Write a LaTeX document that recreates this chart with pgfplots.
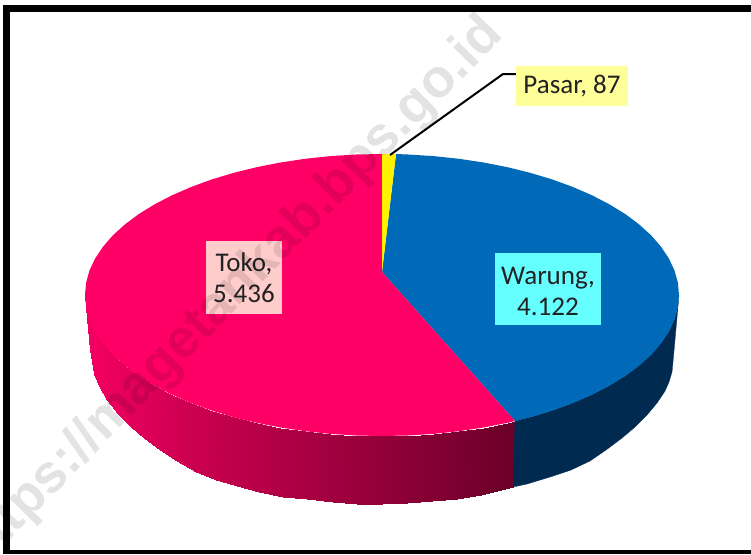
\documentclass[border=0pt]{standalone}
\usepackage{pgfplots}
\pgfplotsset{compat=1.18}
\usepackage{fontspec}
\setmainfont{Carlito}
\newfontfamily\wmfont{Liberation Sans}
\definecolor{pie red}{HTML}{FF0066}
\definecolor{pie blue}{HTML}{0069B8}
\definecolor{pie yellow}{HTML}{FFF200}
\definecolor{side blue}{HTML}{012A50}
\definecolor{box red}{HTML}{FFCCCC}
\definecolor{box blue}{HTML}{66FFFF}
\definecolor{box yellow}{HTML}{FFFF99}
\definecolor{label text}{HTML}{222222}
\begin{document}
\begin{tikzpicture}
\useasboundingbox (0,0) rectangle (751pt,554pt);
\begin{axis}[
  at={(0,0)}, anchor=south west,
  scale only axis, width=751pt, height=554pt,
  xmin=0, xmax=751, ymin=0, ymax=554, y dir=reverse,
  hide axis, clip=true,
  colormap={redside}{rgb255(0cm)=(245,0,98); rgb255(2.7cm)=(200,0,79); rgb255(5.8cm)=(160,0,63); rgb255(10cm)=(106,0,40)},
  point meta min=85, point meta max=515,
]
% red side wall: upper rim, then lower rim
\addplot[surf, shader=interp, mesh/rows=2, mesh/cols=25, point meta=x] table {
x y
515 421
507.5 422.8
483.6 427.5
459 431.2
433.6 433.9
407.9 435.5
382 436
356.1 435.5
330.4 433.9
305.1 431.2
280.4 427.5
256.5 422.8
233.5 417.1
211.6 410.5
191.1 403
172 394.7
154.5 385.6
138.7 375.9
124.8 365.5
112.8 354.6
102.9 343.2
95.1 331.5
89.5 319.5
86.1 307.3
85 295
513 487
505 489
481 495
457 499
432 501
407 503
382 504
357 503.5
333 502
307 499
283 497
259 492
237 486
216 480
196 472
177 461
160 450
144 438
131 427
118 414
107 400
99 386
94 374
90 350
87 310
};
% blue side wall
\addplot[fill=side blue, draw=side blue, line width=0.3pt] coordinates {
(679,295) (677.9,307.3) (674.5,319.5) (668.9,331.5) (661.1,343.2) (651.2,354.6) (639.2,365.5) (625.3,375.9) (609.5,385.6) (592,394.7) (572.9,403) (552.4,410.5) (530.5,417.1) (515,421)
(513,487) (527,484) (550,477) (571,470) (590,461) (606,450) (622,438) (635,427) (647,415) (657,403) (665,391) (669,382) (672,372) (673,362)
} -- cycle;
% top faces
\addplot[fill=pie blue, draw=none] coordinates {
(382,272) (396,154) (407.9,154.5) (433.6,156.1) (459,158.8) (483.6,162.5) (507.5,167.2) (530.5,172.9) (552.4,179.5) (572.9,187) (592,195.3) (609.5,204.4) (625.3,214.1) (639.2,224.5) (651.2,235.4) (661.1,246.8) (668.9,258.5) (674.5,270.5) (677.9,282.7) (679,295) (677.9,307.3) (674.5,319.5) (668.9,331.5) (661.1,343.2) (651.2,354.6) (639.2,365.5) (625.3,375.9) (609.5,385.6) (592,394.7) (572.9,403) (552.4,410.5) (530.5,417.1) (515,421)
} -- cycle;
\addplot[fill=pie red, draw=none] coordinates {
(382,272) (515,421) (507.5,422.8) (483.6,427.5) (459,431.2) (433.6,433.9) (407.9,435.5) (382,436) (356.1,435.5) (330.4,433.9) (305.1,431.2) (280.4,427.5) (256.5,422.8) (233.5,417.1) (211.6,410.5) (191.1,403) (172,394.7) (154.5,385.6) (138.7,375.9) (124.8,365.5) (112.8,354.6) (102.9,343.2) (95.1,331.5) (89.5,319.5) (86.1,307.3) (85,295) (86.1,282.7) (89.5,270.5) (95.1,258.5) (102.9,246.8) (112.8,235.4) (124.8,224.5) (138.7,214.1) (154.5,204.4) (172,195.3) (191.1,187) (211.6,179.5) (233.5,172.9) (256.5,167.2) (280.4,162.5) (305.1,158.8) (330.4,156.1) (356.1,154.5) (382,154)
} -- cycle;
\addplot[fill=pie yellow, draw=none] coordinates {(382,272) (382,154) (396,154)} -- cycle;
% leader line
\addplot[black, line width=2pt] coordinates {(390,155) (503,74) (516,74)};
% frame
\addplot[black, line width=7pt] coordinates {(751,8.5) (6.5,8.5) (6.5,554)};
\addplot[black, line width=4pt] coordinates {(3,552) (751,552)};
% labels
\node[fill=box red, draw=none, inner sep=0pt, minimum width=76pt, minimum height=73pt, text=label text, font=\fontsize{27}{31}\selectfont, align=center] at (axis cs:244,277.5) {Toko,\\5.436};
\node[fill=box blue, draw=none, inner sep=0pt, minimum width=106pt, minimum height=72pt, text=label text, font=\fontsize{27}{31}\selectfont, align=center] at (axis cs:548,289) {\strut\smash{Warung,}\\[0pt]\smash{4.122}};
\node[fill=box yellow, draw=none, inner sep=0pt, minimum width=112pt, minimum height=40pt, text=label text, font=\fontsize{27}{31}\selectfont] at (axis cs:572,86) {Pasar, 87};
% watermark
\node[rotate=45.5, anchor=base east, font=\wmfont\bfseries\fontsize{54}{54}\selectfont, text=black, text opacity=0.11, inner sep=0pt] at (axis cs:505,36) {https://magetankab.bps.go.id};
\end{axis}
\end{tikzpicture}
\end{document}
